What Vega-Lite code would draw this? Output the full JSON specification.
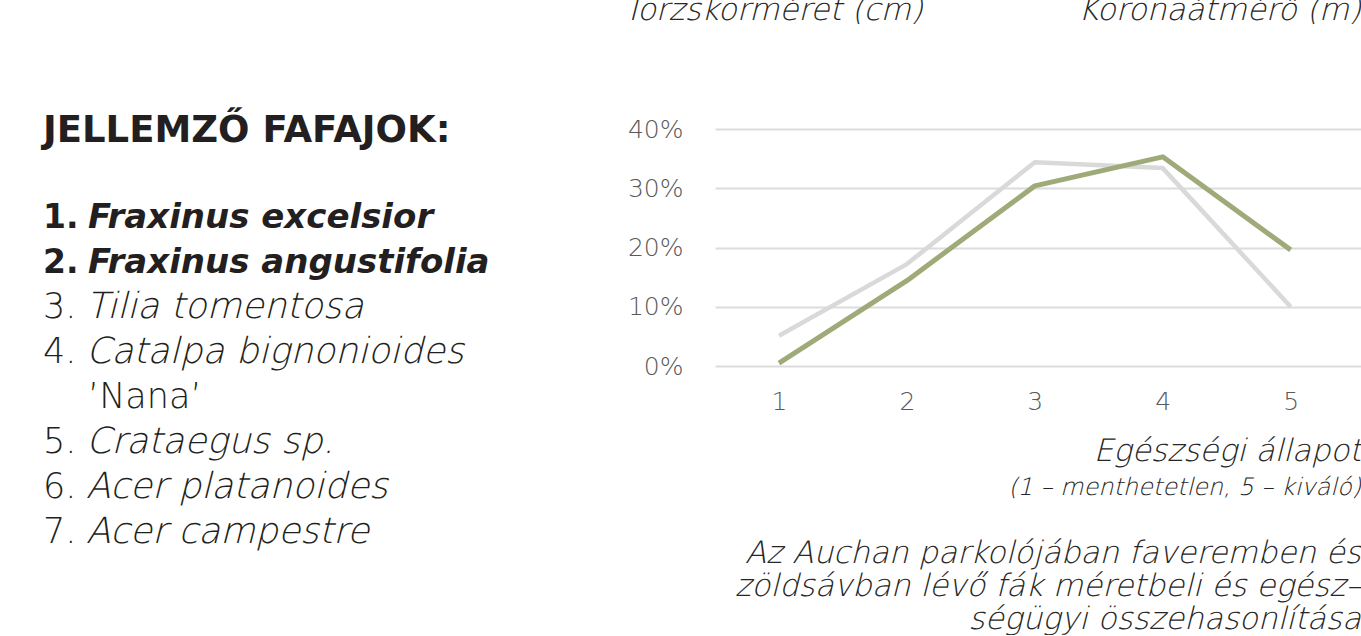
{
  "$schema": "https://vega.github.io/schema/vega-lite/v6.json",
  "autosize": {"type": "pad"},
  "padding": {"left": 43, "top": -5, "right": 0, "bottom": 0},
  "background": "#ffffff",
  "bounds": "flush",
  "spacing": 72,
  "title": {
    "text": "Törzskörméret (cm)\u2003\u2003\u2003\u2003\u2003Koronaátmérő (m)",
    "anchor": "end",
    "frame": "bounds",
    "font": "DejaVu Sans ExtraLight, DejaVu Sans Light, DejaVu Sans",
    "fontSize": 31,
    "fontStyle": "italic",
    "fontWeight": 200,
    "color": "#262626",
    "offset": 85
  },
  "config": {
    "view": {"stroke": null},
    "axis": {"labelFont": "DejaVu Sans", "titleFont": "DejaVu Sans ExtraLight, DejaVu Sans Light, DejaVu Sans"}
  },
  "hconcat": [
    {
      "width": 600,
      "height": 450,
      "data": {
        "values": [
          {"sor": 0, "tipus": "cim", "szam": "", "nev": "JELLEMZŐ FAFAJOK:"},
          {"sor": 2, "tipus": "kiemelt", "szam": "1.", "nev": "Fraxinus excelsior"},
          {"sor": 3, "tipus": "kiemelt", "szam": "2.", "nev": "Fraxinus angustifolia"},
          {"sor": 4, "tipus": "normal", "szam": "3.", "nev": "Tilia tomentosa"},
          {"sor": 5, "tipus": "normal", "szam": "4.", "nev": "Catalpa bignonioides"},
          {"sor": 6, "tipus": "fajta", "szam": "", "nev": "’Nana’"},
          {"sor": 7, "tipus": "normal", "szam": "5.", "nev": "Crataegus sp."},
          {"sor": 8, "tipus": "normal", "szam": "6.", "nev": "Acer platanoides"},
          {"sor": 9, "tipus": "normal", "szam": "7.", "nev": "Acer campestre"}
        ]
      },
      "encoding": {
        "y": {"field": "sor", "type": "quantitative", "scale": {"domain": [-0.2, 9.8], "reverse": true, "nice": false, "zero": false}, "axis": null},
        "x": {"value": 0}
      },
      "layer": [
        {
          "transform": [{"filter": "datum.tipus === 'cim'"}],
          "mark": {"type": "text", "align": "left", "baseline": "alphabetic", "font": "DejaVu Sans", "fontWeight": "bold", "fontSize": 37, "color": "#231f20", "dy": 4},
          "encoding": {"text": {"field": "nev"}}
        },
        {
          "transform": [{"filter": "datum.tipus === 'kiemelt'"}],
          "mark": {"type": "text", "align": "left", "baseline": "alphabetic", "font": "DejaVu Sans", "fontWeight": "bold", "fontSize": 33, "color": "#231f20"},
          "encoding": {"text": {"field": "szam"}}
        },
        {
          "transform": [{"filter": "datum.tipus === 'kiemelt'"}],
          "mark": {"type": "text", "align": "left", "baseline": "alphabetic", "font": "DejaVu Sans", "fontWeight": "bold", "fontStyle": "italic", "fontSize": 34, "color": "#231f20", "dx": 45},
          "encoding": {"text": {"field": "nev"}}
        },
        {
          "transform": [{"filter": "datum.tipus === 'normal'"}],
          "mark": {"type": "text", "align": "left", "baseline": "alphabetic", "font": "DejaVu Sans ExtraLight, DejaVu Sans Light, DejaVu Sans", "fontWeight": 200, "fontSize": 35, "color": "#231f20"},
          "encoding": {"text": {"field": "szam"}}
        },
        {
          "transform": [{"filter": "datum.tipus === 'normal'"}],
          "mark": {"type": "text", "align": "left", "baseline": "alphabetic", "font": "DejaVu Sans ExtraLight, DejaVu Sans Light, DejaVu Sans", "fontWeight": 200, "fontStyle": "italic", "fontSize": 36, "color": "#231f20", "dx": 43},
          "encoding": {"text": {"field": "nev"}}
        },
        {
          "transform": [{"filter": "datum.tipus === 'fajta'"}],
          "mark": {"type": "text", "align": "left", "baseline": "alphabetic", "font": "DejaVu Sans ExtraLight, DejaVu Sans Light, DejaVu Sans", "fontWeight": 200, "fontSize": 35, "color": "#231f20", "dx": 45},
          "encoding": {"text": {"field": "nev"}}
        }
      ]
    },
    {
      "width": 646,
      "height": 237,
      "title": {
        "text": "(1 – menthetetlen, 5 – kiváló)",
        "orient": "bottom",
        "anchor": "end",
        "font": "DejaVu Sans ExtraLight, DejaVu Sans Light, DejaVu Sans",
        "fontSize": 24,
        "fontStyle": "italic",
        "fontWeight": 200,
        "color": "#262626",
        "offset": 10,
        "subtitle": ["Az Auchan parkolójában faveremben és", "zöldsávban lévő fák méretbeli és egész–", "ségügyi összehasonlítása"],
        "subtitleFont": "DejaVu Sans ExtraLight, DejaVu Sans Light, DejaVu Sans",
        "subtitleFontSize": 31,
        "subtitleFontStyle": "italic",
        "subtitleFontWeight": 200,
        "subtitleColor": "#262626",
        "subtitleLineHeight": 33,
        "subtitlePadding": 39
      },
      "data": {
        "values": [
          {"allapot": 1, "sorozat": "Zöldsáv", "arany": 0.051},
          {"allapot": 2, "sorozat": "Zöldsáv", "arany": 0.172},
          {"allapot": 3, "sorozat": "Zöldsáv", "arany": 0.344},
          {"allapot": 4, "sorozat": "Zöldsáv", "arany": 0.334},
          {"allapot": 5, "sorozat": "Zöldsáv", "arany": 0.100},
          {"allapot": 1, "sorozat": "Faverem", "arany": 0.005},
          {"allapot": 2, "sorozat": "Faverem", "arany": 0.144},
          {"allapot": 3, "sorozat": "Faverem", "arany": 0.304},
          {"allapot": 4, "sorozat": "Faverem", "arany": 0.353},
          {"allapot": 5, "sorozat": "Faverem", "arany": 0.196}
        ]
      },
      "encoding": {
        "x": {
          "field": "allapot", "type": "quantitative",
          "scale": {"domain": [0.5, 5.55], "nice": false, "zero": false},
          "axis": {
            "values": [1, 2, 3, 4, 5], "format": "d", "grid": false, "domain": false, "ticks": false,
            "labelPadding": 23, "labelFontSize": 25, "labelFontWeight": 200, "labelColor": "#595959",
            "title": "Egészségi állapot", "titleAnchor": "end", "titleAlign": "right",
            "titleFontSize": 31, "titleFontStyle": "italic", "titleFontWeight": 200, "titleColor": "#262626",
            "titlePadding": 22
          }
        },
        "y": {
          "field": "arany", "type": "quantitative",
          "scale": {"domain": [0, 0.4], "nice": false},
          "axis": {
            "values": [0, 0.1, 0.2, 0.3, 0.4], "format": ".0%", "grid": true, "gridColor": "#dcdcdc", "gridWidth": 2,
            "domain": false, "ticks": false, "labelPadding": 32, "labelFontSize": 25, "labelFontWeight": 200,
            "labelColor": "#595959", "title": null
          }
        }
      },
      "layer": [
        {
          "transform": [{"filter": "datum.sorozat === 'Zöldsáv'"}],
          "mark": {"type": "line", "color": "#d9d9d9", "strokeWidth": 4.5, "strokeJoin": "round"}
        },
        {
          "transform": [{"filter": "datum.sorozat === 'Faverem'"}],
          "mark": {"type": "line", "color": "#9eaa78", "strokeWidth": 5, "strokeJoin": "round"}
        }
      ]
    }
  ]
}
